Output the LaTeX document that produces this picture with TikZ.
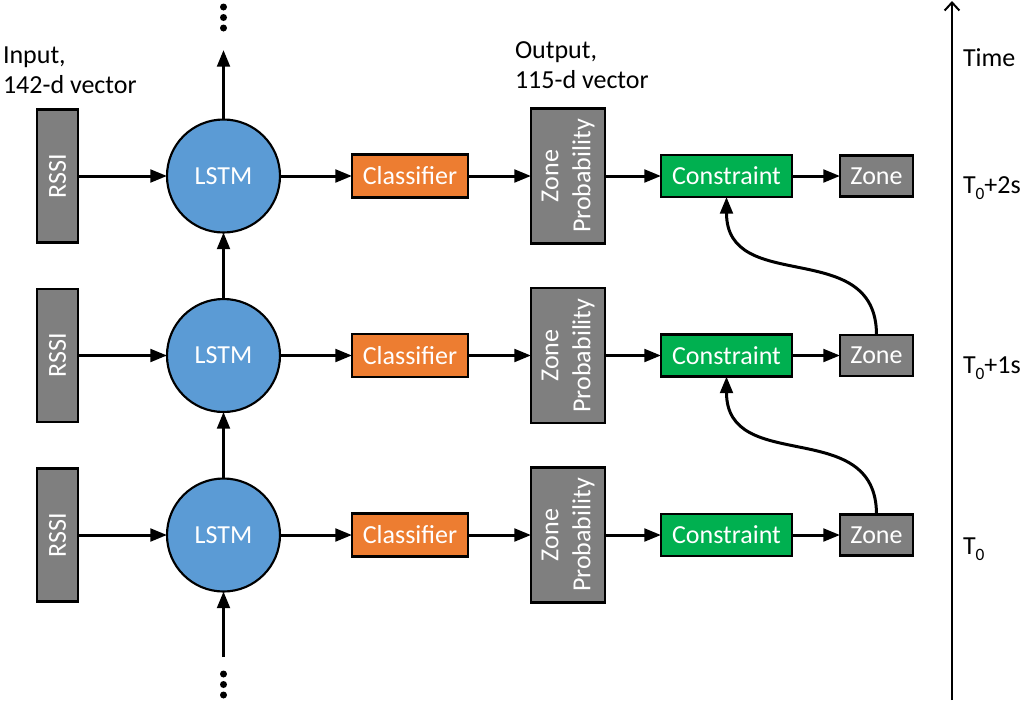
\documentclass[tikz,border=0pt]{standalone}
\usepackage{fontspec}
\setmainfont{Carlito}
\usetikzlibrary{arrows.meta}
\definecolor{boxgray}{HTML}{7F7F7F}
\definecolor{lstmblue}{HTML}{5B9BD5}
\definecolor{clsorange}{HTML}{ED7D31}
\definecolor{cgreen}{HTML}{00B050}
\newcommand{\tsub}[1]{\raisebox{-4.5pt}{\fontsize{13}{13}\selectfont #1}}
\begin{document}
\begin{tikzpicture}[x=0.75pt,y=-0.75pt,
  every node/.style={font=\fontsize{19.5}{23}\selectfont, inner sep=0pt, outer sep=0pt},
  blk/.style={draw=black, line width=1.6pt, text=white},
  rssibox/.style={blk, fill=boxgray, rotate=90, minimum width=99.75pt, minimum height=30.75pt},
  lstmnode/.style={blk, circle, fill=lstmblue, line width=1.6pt, minimum size=84.75pt},
  clsbox/.style={blk, fill=clsorange, minimum width=87pt, minimum height=32.25pt},
  probbox/.style={blk, fill=boxgray, rotate=90, minimum width=101.25pt, minimum height=55.5pt, align=center, font=\fontsize{19.5}{24}\selectfont},
  conbox/.style={blk, fill=cgreen, minimum width=98.25pt, minimum height=31.5pt},
  zonebox/.style={blk, fill=boxgray, minimum width=54.75pt, minimum height=30.75pt},
  flow/.style={line width=2.25pt, -{Triangle[length=12.5pt,width=9.5pt]}},
  label/.style={anchor=base west, text=black},
  dot/.style={circle, fill=black, inner sep=0pt, minimum size=5.25pt}
]
\useasboundingbox (0,0) rectangle (1024,700);

% rows
\foreach \i/\y in {1/176, 2/355.5, 3/535} {
  \node[rssibox] (rssi\i) at (57.5,\y) {RSSI};
  \node[lstmnode] (lstm\i) at (223.5,\y) {LSTM};
  \node[clsbox] (cls\i) at (410,\y) {Classifier};
  \node[probbox] (prob\i) at (568,\y) {Zone\\Probability};
  \node[conbox] (con\i) at (726.5,\y) {Constraint};
  \node[zonebox] (zone\i) at (876.5,\y) {Zone};
  \draw[flow] (rssi\i) -- (lstm\i);
  \draw[flow] (lstm\i) -- (cls\i);
  \draw[flow] (cls\i) -- (prob\i);
  \draw[flow] (prob\i) -- (con\i);
  \draw[flow] (con\i) -- (zone\i);
}

% vertical LSTM links
\coordinate (topend) at (223.5,50);
\coordinate (botstart) at (223.5,657);
\draw[flow] (lstm3) -- (lstm2);
\draw[flow] (lstm2) -- (lstm1);
\draw[flow] (lstm1.north) -- (topend);
\draw[flow] (botstart) -- (lstm3.south);
\node[dot] (d1) at (223.5,7) {};
\node[dot] (d2) at (223.5,17.5) {};
\node[dot] (d3) at (223.5,28) {};
\node[dot] (d4) at (223.5,674) {};
\node[dot] (d5) at (223.5,684.5) {};
\node[dot] (d6) at (223.5,695) {};

% feedback curves
\draw[flow] (zone3.north) to[out=90,in=-90,looseness=1.25] (con2.south);
\draw[flow] (zone2.north) to[out=90,in=-90,looseness=1.25] (con1.south);

% labels
\node[label] (in1) at (3,63) {Input,};
\node[label] (in2) at (3,93) {142-d vector};
\node[label] (out1) at (515,58) {Output,};
\node[label] (out2) at (515,88) {115-d vector};

% time axis
\coordinate (tbot) at (952,700);
\coordinate (ttop) at (952,1);
\draw[line width=1.5pt, -{Straight Barb[length=6pt,width=11pt]}] (tbot) -- (ttop);
\node[label] (tlab) at (963,66) {Time};
\node[label] (t2) at (963,193) {T\tsub{0}+2s};
\node[label] (t1) at (963,373) {T\tsub{0}+1s};
\node[label] (t0) at (963,554) {T\tsub{0}};
\end{tikzpicture}
\end{document}
